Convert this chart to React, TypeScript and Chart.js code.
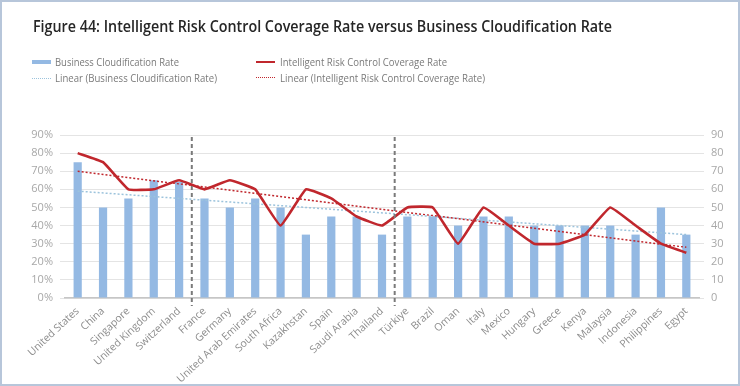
import React, { useEffect, useLayoutEffect, useRef } from "react";
import { Chart, registerables } from "chart.js";

Chart.register(...registerables);

const categories = [
  "United States", "China", "Singapore", "United Kingdom", "Switzerland",
  "France", "Germany", "United Arab Emirates", "South Africa", "Kazakhstan",
  "Spain", "Saudi Arabia", "Thailand", "Türkiye", "Brazil", "Oman", "Italy",
  "Mexico", "Hungary", "Greece", "Kenya", "Malaysia", "Indonesia",
  "Philippines", "Egypt",
];

const cloudificationRate = [
  75, 50, 55, 65, 64, 55, 50, 55, 50, 35, 45, 45, 35, 45, 45, 40, 45, 45, 40,
  40, 40, 40, 35, 50, 35,
];

const riskControlRate = [
  80, 75, 60, 60, 65, 60, 65, 60, 40, 60, 55, 45, 40, 50, 50, 30, 50, 40, 30,
  30, 35, 50, 40, 30, 25,
];

// trendline end points
const cloudTrendStart = 59;
const cloudTrendEnd = 35;
const riskTrendStart = 70;
const riskTrendEnd = 28;

const dividerAfter = ["Switzerland", "Thailand"];

const leftTicks = [0, 10, 20, 30, 40, 50, 60, 70, 80, 90];

const TITLE =
  "Figure 44: Intelligent Risk Control Coverage Rate versus Business Cloudification Rate";

const BAR_COLOR = "#94b9e3";
const RED = "#c0272d";
const BLUE_TREND = "#9cc3dc";
const HUMAN = "'Open Sans', 'Noto Sans', sans-serif";
const TICK_FONT = "'Open Sans', 'Liberation Sans', sans-serif";

const dividerPlugin = {
  id: "dividers",
  afterDatasetsDraw(chart: any) {
    const x = chart.scales.x;
    const area = chart.chartArea;
    const ctx = chart.ctx;
    ctx.save();
    ctx.strokeStyle = "#7a7a7a";
    ctx.lineWidth = 2;
    ctx.setLineDash([4, 3]);
    dividerAfter.forEach((name) => {
      const i = categories.indexOf(name);
      const px = (x.getPixelForValue(i) + x.getPixelForValue(i + 1)) / 2;
      ctx.beginPath();
      ctx.moveTo(px, area.top + 2);
      ctx.lineTo(px, area.bottom + 8);
      ctx.stroke();
    });
    ctx.restore();
  },
};

function FitText(props: {
  left: number;
  top: number;
  width: number;
  style: React.CSSProperties;
  children: React.ReactNode;
}) {
  const r = useRef<HTMLDivElement | null>(null);
  useLayoutEffect(() => {
    const el = r.current;
    if (!el) return;
    el.style.transform = "none";
    const w = el.getBoundingClientRect().width;
    if (w > 0) el.style.transform = `scaleX(${props.width / w})`;
  }, [props.width]);
  return (
    <div
      ref={r}
      style={{
        position: "absolute",
        left: props.left,
        top: props.top,
        whiteSpace: "nowrap",
        transformOrigin: "0 0",
        display: "inline-block",
        ...props.style,
      }}
    >
      {props.children}
    </div>
  );
}

export default function App() {
  const ref = useRef<HTMLCanvasElement | null>(null);

  useEffect(() => {
    if (!ref.current) return;
    const chart = new Chart(ref.current, {
      type: "bar",
      data: {
        labels: categories,
        datasets: [
          {
            type: "line",
            label: "Intelligent Risk Control Coverage Rate",
            data: riskControlRate,
            borderColor: RED,
            backgroundColor: RED,
            borderWidth: 2.6,
            pointRadius: 0,
            tension: 0.1,
            yAxisID: "y",
            order: 1,
          },
          {
            type: "line",
            label: "Linear (Intelligent Risk Control Coverage Rate)",
            data: [
              { x: categories[0], y: riskTrendStart },
              { x: categories[categories.length - 1], y: riskTrendEnd },
            ] as any,
            borderColor: RED,
            borderWidth: 1.5,
            borderDash: [2, 2],
            pointRadius: 0,
            yAxisID: "y",
            order: 2,
          },
          {
            type: "line",
            label: "Linear (Business Cloudification Rate)",
            data: [
              { x: categories[0], y: cloudTrendStart },
              { x: categories[categories.length - 1], y: cloudTrendEnd },
            ] as any,
            borderColor: BLUE_TREND,
            borderWidth: 1.5,
            borderDash: [2, 2],
            pointRadius: 0,
            yAxisID: "y",
            order: 3,
          },
          {
            type: "bar",
            label: "Business Cloudification Rate",
            data: cloudificationRate,
            backgroundColor: BAR_COLOR,
            barPercentage: 0.36,
            categoryPercentage: 0.9,
            yAxisID: "y",
            order: 4,
          },
        ],
      },
      options: {
        responsive: false,
        animation: false,
        layout: { padding: { top: 135, left: 0, right: 0, bottom: 0 } },
        plugins: {
          legend: { display: false },
          tooltip: { enabled: false },
          title: { display: false },
        },
        scales: {
          x: {
            grid: { display: false, drawTicks: false },
            border: { display: true, color: "#c6c6c6", width: 1.5 },
            ticks: {
              autoSkip: false,
              minRotation: 43,
              maxRotation: 43,
              padding: 7,
              color: "#8c8c8c",
              font: { family: TICK_FONT, size: 10.5 },
            },
            afterFit(scale: any) {
              scale.height = 88;
            },
          },
          y: {
            position: "left",
            min: 0,
            max: 90,
            afterBuildTicks(scale: any) {
              scale.ticks = leftTicks.map((v) => ({ value: v }));
            },
            grid: { color: "#e4e4e4", lineWidth: 1, drawTicks: true, tickLength: 5 },
            border: { display: false },
            ticks: {
              padding: 7,
              color: "#a8a8a8",
              font: { family: TICK_FONT, size: 11 },
              callback: (v: any) => v + "%",
            },
            afterFit(scale: any) {
              scale.width = 65;
            },
          },
          y2: {
            position: "right",
            min: 0,
            max: 90,
            afterBuildTicks(scale: any) {
              scale.ticks = leftTicks.map((v) => ({ value: v }));
            },
            grid: {
              drawOnChartArea: false,
              color: "#e4e4e4",
              drawTicks: true,
              tickLength: 5,
            },
            border: { display: false },
            ticks: {
              padding: 7,
              color: "#a8a8a8",
              font: { family: TICK_FONT, size: 11 },
              callback: (v: any) => String(v),
            },
            afterFit(scale: any) {
              scale.width = 41;
            },
          },
        },
      },
      plugins: [dividerPlugin],
    });
    return () => chart.destroy();
  }, []);

  const legendText: React.CSSProperties = {
    fontFamily: HUMAN,
    fontSize: 11,
    color: "#7a7a7a",
    lineHeight: "14px",
  };

  const sym = (left: number, top: number, style: React.CSSProperties) => (
    <div style={{ position: "absolute", left, top, width: 19, ...style }} />
  );

  return (
    <div
      style={{
        position: "fixed",
        left: 0,
        top: 0,
        width: 740,
        height: 386,
        background: "#ffffff",
        overflow: "hidden",
      }}
    >
      <canvas ref={ref} width={740} height={386} style={{ position: "absolute", left: 0, top: 0 }} />
      <FitText
        left={33}
        top={15}
        width={579}
        style={{
          fontFamily: HUMAN,
          fontWeight: 600,
          fontSize: 16,
          color: "#262626",
          lineHeight: "22px",
        }}
      >
        {TITLE}
      </FitText>
      {sym(32, 60, { height: 4, background: BAR_COLOR })}
      <FitText left={55} top={55} width={124} style={legendText}>
        Business Cloudification Rate
      </FitText>
      {sym(32, 78, { height: 0, borderTop: `1px dotted ${BLUE_TREND}` })}
      <FitText left={55} top={71} width={162} style={legendText}>
        Linear (Business Cloudification Rate)
      </FitText>
      {sym(256, 61, { height: 2, background: RED })}
      <FitText left={280} top={55} width={167} style={legendText}>
        Intelligent Risk Control Coverage Rate
      </FitText>
      {sym(256, 77, { height: 0, borderTop: `1.5px dotted ${RED}` })}
      <FitText left={280} top={71} width={205} style={legendText}>
        Linear (Intelligent Risk Control Coverage Rate)
      </FitText>
      <div
        style={{
          position: "absolute",
          left: 0,
          top: 0,
          width: 740,
          height: 386,
          boxSizing: "border-box",
          border: "2px solid #b7c6da",
          pointerEvents: "none",
        }}
      />
    </div>
  );
}
